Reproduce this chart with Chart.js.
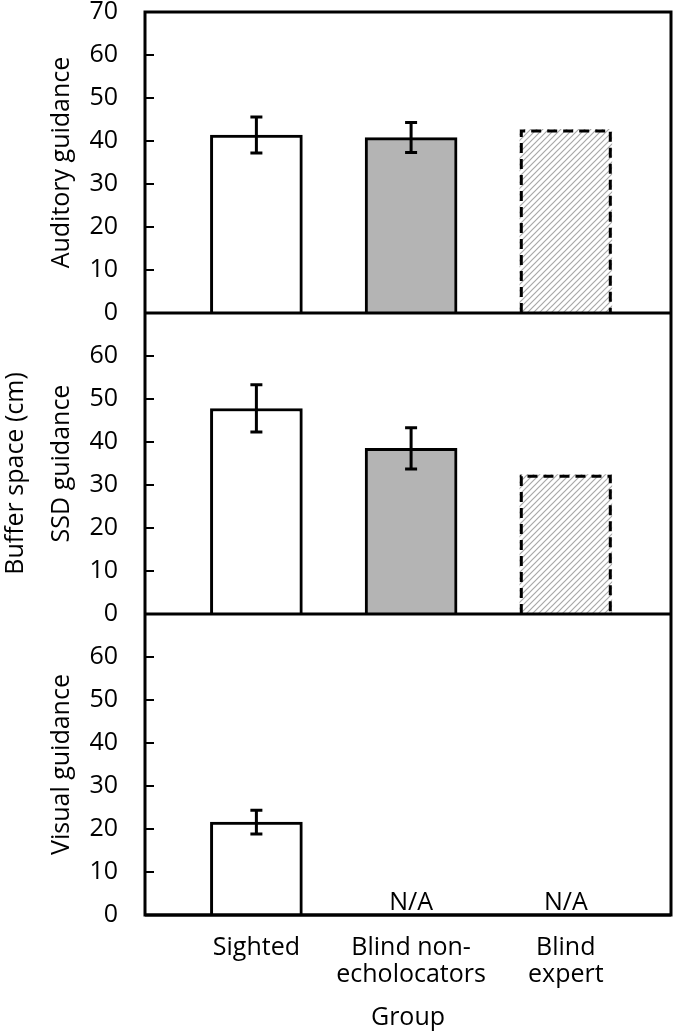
<!DOCTYPE html>
<html>
<head>
<meta charset="utf-8">
<script src="https://cdn.jsdelivr.net/npm/chart.js@4/dist/chart.umd.min.js"></script>
<style>
  html, body { margin: 0; padding: 0; background: #fff; }
  canvas { display: block; }
</style>
</head>
<body>
<canvas id="graph" width="675" height="1035"></canvas>
<script>
// groups on the x axis (multi-line labels)
const groups = [["Sighted"], ["Blind non-", "echolocators"], ["Blind", "expert"]];
const yTicks = [0, 10, 20, 30, 40, 50, 60, 70];
const panelTitles = ["Auditory guidance", "SSD guidance", "Visual guidance"];

// mean buffer space (cm) and error bar half-widths
const auditory = [41.4, 40.8, 42.7];
const auditoryErr = [4.2, 3.5, null];
const ssd = [47.8, 38.5, 32.4];
const ssdErr = [5.5, 4.8, null];
const visual = [21.6, null, null];
const visualErr = [2.75, null, null];
const naLabel = "N/A";

const font = { family: "'Open Sans', sans-serif", size: 25, lineHeight: 1.08 };

// diagonal hatch for the expert bars
function hatch() {
  const c = document.createElement("canvas");
  c.width = 6; c.height = 6;
  const g = c.getContext("2d");
  g.strokeStyle = "#a8a8a8";
  g.lineWidth = 1.2;
  g.beginPath();
  g.moveTo(0, 6); g.lineTo(6, 0);
  g.moveTo(-1, 1); g.lineTo(1, -1);
  g.moveTo(5, 7); g.lineTo(7, 5);
  g.stroke();
  return g.createPattern(c, "repeat");
}
const pattern = hatch();
const fills = ["#ffffff", "#b4b4b4", pattern];

function dataset(values, errors, axis) {
  return {
    data: values.map((v, i) => ({ x: i, y: v })),
    errors: errors,
    yAxisID: axis,
    xAxisID: "x",
    grouped: false,
    barThickness: 92,
    backgroundColor: fills,
    borderColor: "#000",
    borderWidth: [3, 3, 0],
    dashed: [false, false, true]
  };
}

function yAxis(title, hideTop) {
  return {
    type: "linear",
    position: "left",
    stack: "panels",
    stackWeight: 1,
    min: 0,
    max: 70,
    afterBuildTicks: s => { s.ticks = yTicks.map(v => ({ value: v })); },
    ticks: {
      color: "#000",
      font: font,
      padding: 27,
      autoSkip: false,
      callback: v => (hideTop && v === 70) ? "" : v
    },
    grid: { display: false, drawTicks: false },
    border: { display: false },
    title: { display: true, text: title, color: "#000", font: font, padding: { top: 18.5, bottom: 0 } },
    afterFit: s => {
      s.width = 115;
      // the stacked panels butt against each other, no label overflow room
      s.paddingTop = 0;
      s.paddingBottom = 0;
    }
  };
}

const errorBars = {
  id: "errorBars",
  afterDatasetsDraw(chart) {
    const ctx = chart.ctx;
    chart.data.datasets.forEach((ds, di) => {
      const meta = chart.getDatasetMeta(di);
      const ys = chart.scales[ds.yAxisID];
      meta.data.forEach((bar, i) => {
        const v = ds.data[i].y;
        if (v == null) return;
        const p = bar.getProps(["x", "y", "base", "width"], true);
        ctx.save();
        ctx.strokeStyle = "#000";
        ctx.lineWidth = 3;
        if (ds.dashed[i]) {
          const l = p.x - p.width / 2 + 1.5, r = p.x + p.width / 2 - 1.5;
          ctx.setLineDash([10, 6]);
          ctx.beginPath();
          ctx.moveTo(l, p.base);
          ctx.lineTo(l, p.y + 1.5);
          ctx.lineTo(r, p.y + 1.5);
          ctx.lineTo(r, p.base);
          ctx.stroke();
          ctx.setLineDash([]);
        }
        const e = ds.errors[i];
        if (e != null) {
          const top = ys.getPixelForValue(v + e), bot = ys.getPixelForValue(v - e);
          ctx.beginPath();
          ctx.moveTo(p.x, top); ctx.lineTo(p.x, bot);
          ctx.moveTo(p.x - 6, top); ctx.lineTo(p.x + 6, top);
          ctx.moveTo(p.x - 6, bot); ctx.lineTo(p.x + 6, bot);
          ctx.stroke();
        }
        ctx.restore();
      });
    });
  }
};

const frame = {
  id: "frame",
  afterDraw(chart) {
    const ctx = chart.ctx;
    const a = chart.chartArea;
    ctx.save();
    ctx.strokeStyle = "#000";
    ctx.lineWidth = 3;
    ctx.strokeRect(a.left, a.top, a.right - a.left, a.bottom - a.top);
    ctx.beginPath();
    ["y1", "y2", "y3"].forEach(id => {
      const s = chart.scales[id];
      const y0 = s.getPixelForValue(0);
      ctx.moveTo(a.left, y0); ctx.lineTo(a.right, y0);
    });
    ctx.stroke();
    // inside tick marks
    ctx.lineWidth = 2;
    ctx.beginPath();
    ["y1", "y2", "y3"].forEach(id => {
      const s = chart.scales[id];
      yTicks.slice(1, -1).forEach(v => {
        const y = s.getPixelForValue(v);
        ctx.moveTo(a.left, y); ctx.lineTo(a.left + 9, y);
      });
    });
    ctx.stroke();
    // N/A for groups without visual guidance
    ctx.fillStyle = "#000";
    ctx.font = "25px 'Open Sans', sans-serif";
    ctx.textAlign = "center";
    ctx.textBaseline = "alphabetic";
    const y3 = chart.scales.y3;
    visual.forEach((v, i) => {
      if (v == null) ctx.fillText(naLabel, chart.scales.x.getPixelForValue(i), y3.getPixelForValue(0) - 5);
    });
    // shared axis label
    ctx.translate(16, chart.scales.y2.getPixelForValue(35) + 10);
    ctx.rotate(-Math.PI / 2);
    ctx.textBaseline = "middle";
    ctx.fillText("Buffer space (cm)", 0, 0);
    ctx.restore();
  }
};

new Chart(document.getElementById("graph").getContext("2d"), {
  type: "bar",
  data: {
    datasets: [
      dataset(auditory, auditoryErr, "y1"),
      dataset(ssd, ssdErr, "y2"),
      dataset(visual, visualErr, "y3")
    ]
  },
  options: {
    responsive: false,
    animation: false,
    devicePixelRatio: 1,
    layout: { padding: { left: 30, right: 4, top: 12, bottom: 0 } },
    plugins: { legend: { display: false }, tooltip: { enabled: false } },
    scales: {
      x: {
        type: "linear",
        offset: false,
        min: -0.72,
        max: 2.68,
        afterBuildTicks: s => { s.ticks = groups.map((g, i) => ({ value: i })); },
        ticks: { color: "#000", font: font, padding: 19.5, autoSkip: false, maxRotation: 0, callback: v => groups[v] },
        grid: { display: false, drawTicks: false },
        border: { display: false },
        title: { display: true, text: "Group", color: "#000", font: font, padding: { top: 0, bottom: 3.5 } },
        afterFit: s => { s.height = 120; }
      },
      // stacked axes are placed bottom to top
      y3: yAxis(panelTitles[2], true),
      y2: yAxis(panelTitles[1], true),
      y1: yAxis(panelTitles[0], false)
    }
  },
  plugins: [errorBars, frame]
});
</script>
</body>
</html>
